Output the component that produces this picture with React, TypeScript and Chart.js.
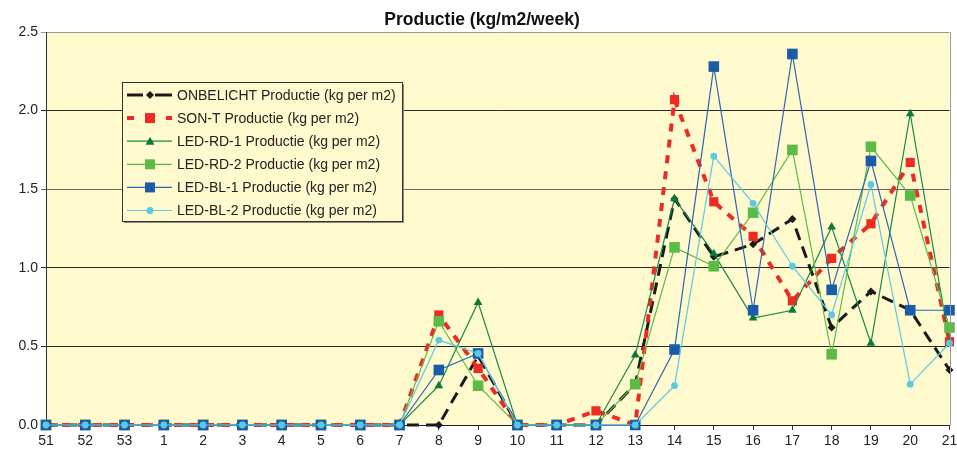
import React, { useEffect, useRef } from "react";
import { Chart, registerables } from "chart.js";

Chart.register(...registerables);

const weeks = ["51", "52", "53", "1", "2", "3", "4", "5", "6", "7", "8", "9", "10", "11", "12", "13", "14", "15", "16", "17", "18", "19", "20", "21"];

const onbelicht = [0, 0, 0, 0, 0, 0, 0, 0, 0, 0, 0, 0.44, 0, 0, 0, 0.26, 1.44, 1.07, 1.15, 1.31, 0.62, 0.85, 0.73, 0.35];
const sonT = [0, 0, 0, 0, 0, 0, 0, 0, 0, 0, 0.7, 0.36, 0, 0, 0.09, 0, 2.07, 1.42, 1.2, 0.79, 1.06, 1.28, 1.67, 0.53];
const ledRd1 = [0, 0, 0, 0, 0, 0, 0, 0, 0, 0, 0.25, 0.78, 0, 0, 0, 0.445, 1.44, 1.09, 0.68, 0.73, 1.26, 0.52, 1.98, 0.52];
const ledRd2 = [0, 0, 0, 0, 0, 0, 0, 0, 0, 0, 0.66, 0.25, 0, 0, 0, 0.26, 1.13, 1.01, 1.35, 1.75, 0.45, 1.77, 1.46, 0.62];
const ledBl1 = [0, 0, 0, 0, 0, 0, 0, 0, 0, 0, 0.35, 0.455, 0, 0, 0, 0, 0.48, 2.28, 0.73, 2.36, 0.86, 1.68, 0.73, 0.73];
const ledBl2 = [0, 0, 0, 0, 0, 0, 0, 0, 0, 0, 0.54, 0.455, 0, 0, 0, 0, 0.25, 1.71, 1.41, 1.01, 0.7, 1.53, 0.26, 0.52];

const seriesNames = [
  "ONBELICHT Productie (kg per m2)",
  "SON-T Productie (kg per m2)",
  "LED-RD-1 Productie (kg per m2)",
  "LED-RD-2 Productie (kg per m2)",
  "LED-BL-1 Productie (kg per m2)",
  "LED-BL-2 Productie (kg per m2)",
];

const yTicks = [0, 0.5, 1, 1.5, 2, 2.5];
const titleText = "Productie (kg/m2/week)";

const FONT = "'Liberation Sans', Arial, sans-serif";
const BG = "#FFF9CE";

const styles = [
  { line: "#1a1a1a", marker: "#1a1a1a", width: 3, dash: [12, 7], shape: "diamond", size: 4 },
  { line: "#EE2A24", marker: "#EE2A24", width: 4, dash: [8, 8], shape: "square", size: 6.5 },
  { line: "#138A45", marker: "#0B7A38", width: 1.2, dash: [], shape: "triangle", size: 5 },
  { line: "#5CBB47", marker: "#5CBB47", width: 1.2, dash: [], shape: "square", size: 7.5 },
  { line: "#2D66B3", marker: "#1A5CA8", width: 1.2, dash: [], shape: "square", size: 7.5 },
  { line: "#5CC8E4", marker: "#5CC8E4", width: 1.2, dash: [], shape: "circle", size: 3.4 },
];

const shapeMap: Record<string, string> = { diamond: "rectRot", square: "rect", triangle: "triangle", circle: "circle" };

function drawMarker(ctx: CanvasRenderingContext2D, shape: string, x: number, y: number, color: string) {
  ctx.save();
  ctx.setLineDash([]);
  ctx.fillStyle = color;
  ctx.beginPath();
  if (shape === "diamond") {
    ctx.moveTo(x, y - 4); ctx.lineTo(x + 4, y); ctx.lineTo(x, y + 4); ctx.lineTo(x - 4, y); ctx.closePath();
  } else if (shape === "square") {
    ctx.rect(x - 5, y - 5, 10, 10);
  } else if (shape === "triangle") {
    ctx.moveTo(x, y - 4.5); ctx.lineTo(x + 4.5, y + 3.5); ctx.lineTo(x - 4.5, y + 3.5); ctx.closePath();
  } else {
    ctx.arc(x, y, 3.5, 0, Math.PI * 2);
  }
  ctx.fill();
  ctx.restore();
}

const decorPlugin = {
  id: "decor",
  beforeDraw(chart: any) {
    const { ctx, chartArea: a } = chart;
    ctx.save();
    ctx.fillStyle = "#ffffff";
    ctx.fillRect(0, 0, chart.width, chart.height);
    ctx.fillStyle = BG;
    ctx.fillRect(a.left, a.top, a.right - a.left, a.bottom - a.top);
    ctx.restore();
  },
  afterDraw(chart: any) {
    const { ctx, chartArea: a } = chart;
    ctx.save();
    // right border
    ctx.strokeStyle = "#9a9a9a";
    ctx.lineWidth = 1;
    ctx.beginPath();
    ctx.moveTo(Math.round(a.right) + 0.5, a.top);
    ctx.lineTo(Math.round(a.right) + 0.5, a.bottom);
    ctx.stroke();
    // title
    ctx.fillStyle = "#111";
    ctx.font = `bold 17.5px ${FONT}`;
    ctx.textAlign = "center";
    ctx.textBaseline = "alphabetic";
    ctx.fillText(titleText, 482, 25);
    // legend
    const bx = 122, by = 82, bw = 280, bh = 139;
    ctx.fillStyle = "#8a8a8a";
    ctx.fillRect(bx + 2, by + 2, bw, bh);
    ctx.fillStyle = BG;
    ctx.fillRect(bx, by, bw, bh);
    ctx.strokeStyle = "#333";
    ctx.strokeRect(bx + 0.5, by + 0.5, bw, bh);
    ctx.font = `14px ${FONT}`;
    ctx.textAlign = "left";
    ctx.textBaseline = "middle";
    for (let i = 0; i < seriesNames.length; i++) {
      const s = styles[i];
      const y = 95 + i * 23.1;
      ctx.strokeStyle = s.line;
      ctx.lineWidth = s.width;
      ctx.setLineDash([]);
      if (i === 0) {
        ctx.beginPath(); ctx.moveTo(127, y); ctx.lineTo(143, y); ctx.moveTo(155, y); ctx.lineTo(172, y); ctx.stroke();
      } else if (i === 1) {
        ctx.beginPath(); ctx.moveTo(127, y); ctx.lineTo(134, y); ctx.moveTo(166, y); ctx.lineTo(172, y); ctx.stroke();
      } else {
        ctx.beginPath(); ctx.moveTo(127, y); ctx.lineTo(172, y); ctx.stroke();
      }
      drawMarker(ctx, s.shape, 150, y, s.marker);
      ctx.fillStyle = "#222";
      ctx.fillText(seriesNames[i], 177, y + 1);
    }
    ctx.restore();
  },
};

export default function App() {
  const ref = useRef<HTMLCanvasElement>(null);
  useEffect(() => {
    if (!ref.current) return;
    const seriesData = [onbelicht, sonT, ledRd1, ledRd2, ledBl1, ledBl2];
    const datasets = seriesData.map((d, i) => {
      const s = styles[i];
      return {
        label: seriesNames[i],
        data: d,
        borderColor: s.line,
        borderWidth: s.width,
        borderDash: s.dash,
        backgroundColor: s.marker,
        pointBackgroundColor: s.marker,
        pointBorderColor: s.marker,
        pointBorderWidth: 0,
        pointStyle: shapeMap[s.shape],
        pointRadius: s.size,
        tension: 0,
        fill: false,
        clip: false,
        order: 5 - i,
      };
    });
    const chart = new Chart(ref.current, {
      type: "line",
      data: { labels: weeks, datasets },
      plugins: [decorPlugin],
      options: {
        responsive: false,
        animation: false,
        layout: { padding: { top: 32, right: 6, left: 0, bottom: 0 } },
        plugins: { legend: { display: false }, title: { display: false }, tooltip: { enabled: false } },
        scales: {
          x: {
            offset: false,
            afterFit: (s: any) => { s.height = 27; s.paddingRight = 0; s.paddingLeft = 0; },
            grid: { drawOnChartArea: false, drawTicks: true, tickLength: 5, color: "#333" },
            border: { color: "#222", width: 1 },
            ticks: { color: "#222", font: { family: FONT, size: 14 }, padding: 3, maxRotation: 0, autoSkip: false },
          },
          y: {
            min: 0,
            max: 2.5,
            afterFit: (s: any) => { s.width = 46; s.paddingTop = 0; s.paddingBottom = 0; },
            afterBuildTicks: (s: any) => { s.ticks = yTicks.map((v) => ({ value: v })); },
            grid: {
              drawTicks: true,
              tickLength: 5,
              color: (c: any) => (c.tick && c.tick.value === 2.5 ? "#9a9a9a" : c.tick && c.tick.value === 1.5 ? "#666" : "#2a2a2a"),
            },
            border: { color: "#333", width: 1 },
            ticks: { color: "#222", font: { family: FONT, size: 14 }, padding: 3, callback: (v: any) => Number(v).toFixed(1) },
          },
        },
      },
    });
    return () => chart.destroy();
  }, []);
  return (
    <div style={{ position: "fixed", left: 0, top: 0, width: 957, height: 452, background: "#fff" }}>
      <canvas ref={ref} width={957} height={452} style={{ width: 957, height: 452, display: "block" }} />
    </div>
  );
}
